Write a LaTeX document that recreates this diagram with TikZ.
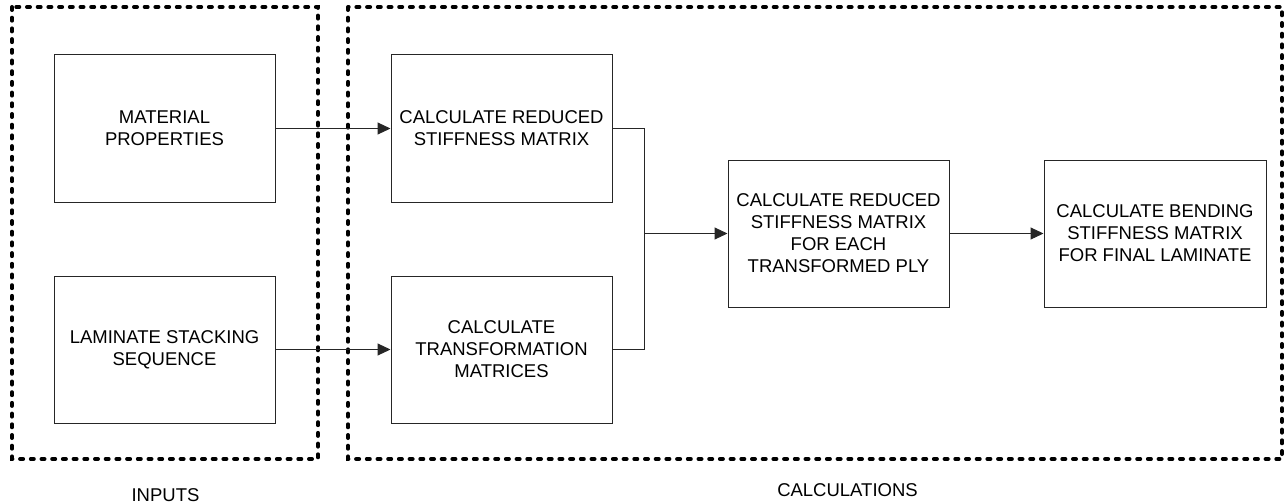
\documentclass[tikz,border=0pt]{standalone}
\usepackage{fontspec}
\setmainfont{Liberation Sans}
\usetikzlibrary{arrows.meta}
\tikzset{
  procbox/.style={draw=black!85, line width=1pt, minimum width=221pt, minimum height=147pt,
    inner sep=0pt, align=center, font=\fontsize{18.5}{22}\selectfont},
  groupframe/.style={draw=black, line width=4pt, line cap=round, dash pattern=on 3pt off 7.7pt},
  link/.style={draw=black!85, line width=1pt},
  arrowlink/.style={link, -{Triangle[length=13pt,width=12pt]}},
  caption/.style={anchor=base, inner sep=0pt, font=\fontsize{18.5}{22}\selectfont}
}
\begin{document}
\begin{tikzpicture}[x=1pt,y=-1pt]
\useasboundingbox (0,0) rectangle (1287,503);
% group frames
\draw[groupframe] (12,7) rectangle (318,459);
\draw[groupframe] (348,7) rectangle (1282,459);
% boxes
\node[procbox] (mat) at (164.5,128.5) {MATERIAL\\PROPERTIES};
\node[procbox] (lam) at (164.5,349.5) {LAMINATE STACKING\\SEQUENCE};
\node[procbox] (red) at (501.5,128.5) {CALCULATE REDUCED\\STIFFNESS MATRIX};
\node[procbox] (tra) at (501.5,349.5) {CALCULATE\\TRANSFORMATION\\MATRICES};
\node[procbox] (mid) at (838.5,233.5) {CALCULATE REDUCED\\STIFFNESS MATRIX\\FOR EACH\\TRANSFORMED PLY};
\node[procbox, minimum width=222pt] (fin) at (1155,233.5) {CALCULATE BENDING\\STIFFNESS MATRIX\\FOR FINAL LAMINATE};
% connectors
\coordinate (J) at (644,233.5);
\draw[arrowlink] (mat.east) -- (red.west);
\draw[arrowlink] (lam.east) -- (tra.west);
\draw[link] (red.east) -| (J);
\draw[link] (tra.east) -| (J);
\draw[arrowlink] (J) -- (mid.west);
\draw[arrowlink] (mid.east) -- (fin.west);
% captions
\node[caption] (inputs) at (165.5,501) {INPUTS};
\node[caption] (calcs) at (847.5,496) {CALCULATIONS};
\end{tikzpicture}
\end{document}
